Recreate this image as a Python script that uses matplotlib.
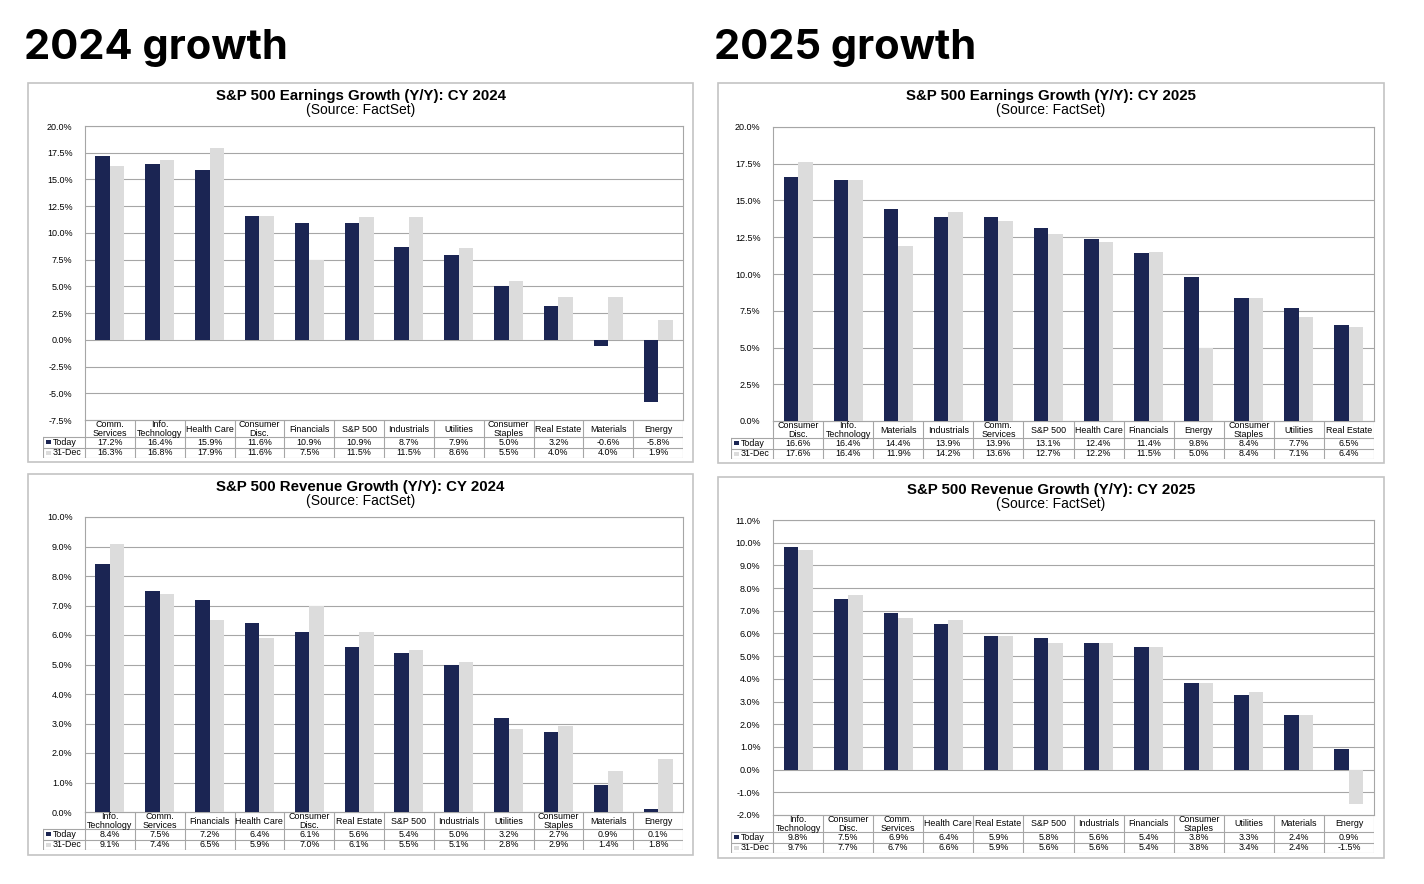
import matplotlib.pyplot as plt
from matplotlib.patches import Rectangle

W, H = 1424, 884
NAVY = '#1b2553'
LIGHT = '#dcdcdc'
GRID = '#a6a6a6'
plt.rcParams['font.family'] = ['Liberation Sans', 'DejaVu Sans']

# earnings 2024
e24_cats = ['Comm.\nServices', 'Info.\nTechnology', 'Health Care', 'Consumer\nDisc.', 'Financials',
            'S&P 500', 'Industrials', 'Utilities', 'Consumer\nStaples', 'Real Estate', 'Materials', 'Energy']
e24_today = [17.2, 16.4, 15.9, 11.6, 10.9, 10.9, 8.7, 7.9, 5.0, 3.2, -0.6, -5.8]
e24_dec = [16.3, 16.8, 17.9, 11.6, 7.5, 11.5, 11.5, 8.6, 5.5, 4.0, 4.0, 1.9]

# earnings 2025
e25_cats = ['Consumer\nDisc.', 'Info.\nTechnology', 'Materials', 'Industrials', 'Comm.\nServices',
            'S&P 500', 'Health Care', 'Financials', 'Energy', 'Consumer\nStaples', 'Utilities', 'Real Estate']
e25_today = [16.6, 16.4, 14.4, 13.9, 13.9, 13.1, 12.4, 11.4, 9.8, 8.4, 7.7, 6.5]
e25_dec = [17.6, 16.4, 11.9, 14.2, 13.6, 12.7, 12.2, 11.5, 5.0, 8.4, 7.1, 6.4]

# revenue 2024
r24_cats = ['Info.\nTechnology', 'Comm.\nServices', 'Financials', 'Health Care', 'Consumer\nDisc.',
            'Real Estate', 'S&P 500', 'Industrials', 'Utilities', 'Consumer\nStaples', 'Materials', 'Energy']
r24_today = [8.4, 7.5, 7.2, 6.4, 6.1, 5.6, 5.4, 5.0, 3.2, 2.7, 0.9, 0.1]
r24_dec = [9.1, 7.4, 6.5, 5.9, 7.0, 6.1, 5.5, 5.1, 2.8, 2.9, 1.4, 1.8]

# revenue 2025
r25_cats = ['Info.\nTechnology', 'Consumer\nDisc.', 'Comm.\nServices', 'Health Care', 'Real Estate',
            'S&P 500', 'Industrials', 'Financials', 'Consumer\nStaples', 'Utilities', 'Materials', 'Energy']
r25_today = [9.8, 7.5, 6.9, 6.4, 5.9, 5.8, 5.6, 5.4, 3.8, 3.3, 2.4, 0.9]
r25_dec = [9.7, 7.7, 6.7, 6.6, 5.9, 5.6, 5.6, 5.4, 3.8, 3.4, 2.4, -1.5]


def px_axes(fig, x0, y0, x1, y1):
    return fig.add_axes([x0 / W, 1 - y1 / H, (x1 - x0) / W, (y1 - y0) / H])


def panel(fig, box, plot, ylim, step, title, cats, today, dec):
    bx0, by0, bx1, by1 = box
    x0, y0, x1, y1 = plot
    # outer frame
    fig.patches.append(Rectangle((bx0 / W, 1 - by1 / H), (bx1 - bx0) / W, (by1 - by0) / H,
                                 transform=fig.transFigure, fill=False, ec='#c4c4c4', lw=1.2))
    cx = (bx0 + bx1) / 2 / W
    fig.text(cx, 1 - (by0 + 13) / H, title, ha='center', va='center',
             fontsize=10.8, fontweight='bold')
    fig.text(cx, 1 - (by0 + 27) / H, '(Source: FactSet)', ha='center', va='center',
             fontsize=10)

    n = len(cats)
    ax = px_axes(fig, x0, y0, x1, y1)
    xs = range(n)
    w = 0.29
    ax.bar([i - w / 2 for i in xs], today, width=w, color=NAVY, zorder=3)
    ax.bar([i + w / 2 for i in xs], dec, width=w, color=LIGHT, zorder=3)
    ax.set_xlim(-0.5, n - 0.5)
    ax.set_ylim(*ylim)
    ticks = []
    t = ylim[0]
    while t <= ylim[1] + 1e-9:
        ticks.append(round(t, 2))
        t += step
    ax.set_yticks(ticks)
    ax.set_yticklabels(['%.1f%%' % v for v in ticks], fontsize=6.5)
    ax.tick_params(axis='y', length=0, pad=9)
    ax.set_xticks([])
    ax.grid(axis='y', color=GRID, lw=0.8, zorder=0)
    for s in ax.spines.values():
        s.set_color(GRID)
        s.set_linewidth(0.8)

    # data table under the plot
    cw = (x1 - x0) / n
    lab_w = 42
    hdr_h, row_h = 17, 10.5
    tax = px_axes(fig, x0 - lab_w, y1, x1, y1 + hdr_h + 2 * row_h)
    tax.set_xlim(-0.5 - lab_w / cw, n - 0.5)
    tax.set_ylim(hdr_h + 2 * row_h, 0)
    tax.axis('off')
    lc = dict(color=GRID, lw=0.8)
    tot = hdr_h + 2 * row_h
    left = -0.5 - lab_w / cw
    tax.plot([-0.5, n - 0.5], [0, 0], **lc)
    tax.plot([left, n - 0.5], [hdr_h, hdr_h], **lc)
    tax.plot([left, n - 0.5], [hdr_h + row_h, hdr_h + row_h], **lc)
    tax.plot([left, n - 0.5], [tot, tot], **lc)
    tax.plot([left, left], [hdr_h, tot], **lc)
    for i in range(n + 1):
        tax.plot([i - 0.5, i - 0.5], [0, tot], **lc)
    for i, c in enumerate(cats):
        tax.text(i, hdr_h / 2 + 0.5, c, ha='center', va='center', fontsize=6.4, linespacing=0.95)
        tax.text(i, hdr_h + row_h / 2, '%.1f%%' % today[i], ha='center', va='center', fontsize=6.4)
        tax.text(i, hdr_h + 1.5 * row_h, '%.1f%%' % dec[i], ha='center', va='center', fontsize=6.4)
    sq = 0.1
    tax.add_patch(Rectangle((left + 0.06, hdr_h + row_h / 2 - 2), sq, 4, color=NAVY, lw=0))
    tax.add_patch(Rectangle((left + 0.06, hdr_h + 1.5 * row_h - 2), sq, 4, color=LIGHT, lw=0))
    tax.text(left + 0.2, hdr_h + row_h / 2, 'Today', ha='left', va='center', fontsize=6.4)
    tax.text(left + 0.2, hdr_h + 1.5 * row_h, '31-Dec', ha='left', va='center', fontsize=6.4)


fig = plt.figure(figsize=(W / 100, H / 100), dpi=100)
fig.patch.set_facecolor('white')

for hx, label in [(24, '2024 growth'), (714, '2025 growth')]:
    fig.text(hx / W, 1 - 48 / H, label, ha='left', va='center', fontsize=30,
             fontweight='bold', family=['Inter', 'Lato', 'DejaVu Sans'])

panel(fig, (28, 83, 693, 462), (85, 126, 683, 420), (-7.5, 20), 2.5,
      'S&P 500 Earnings Growth (Y/Y): CY 2024', e24_cats, e24_today, e24_dec)
panel(fig, (718, 83, 1384, 463), (773, 127, 1374, 421), (0, 20), 2.5,
      'S&P 500 Earnings Growth (Y/Y): CY 2025', e25_cats, e25_today, e25_dec)
panel(fig, (28, 474, 693, 855), (85, 517, 683, 812), (0, 10), 1.0,
      'S&P 500 Revenue Growth (Y/Y): CY 2024', r24_cats, r24_today, r24_dec)
panel(fig, (718, 477, 1384, 858), (773, 520, 1374, 815), (-2, 11), 1.0,
      'S&P 500 Revenue Growth (Y/Y): CY 2025', r25_cats, r25_today, r25_dec)

fig.savefig('out.png', dpi=100)
